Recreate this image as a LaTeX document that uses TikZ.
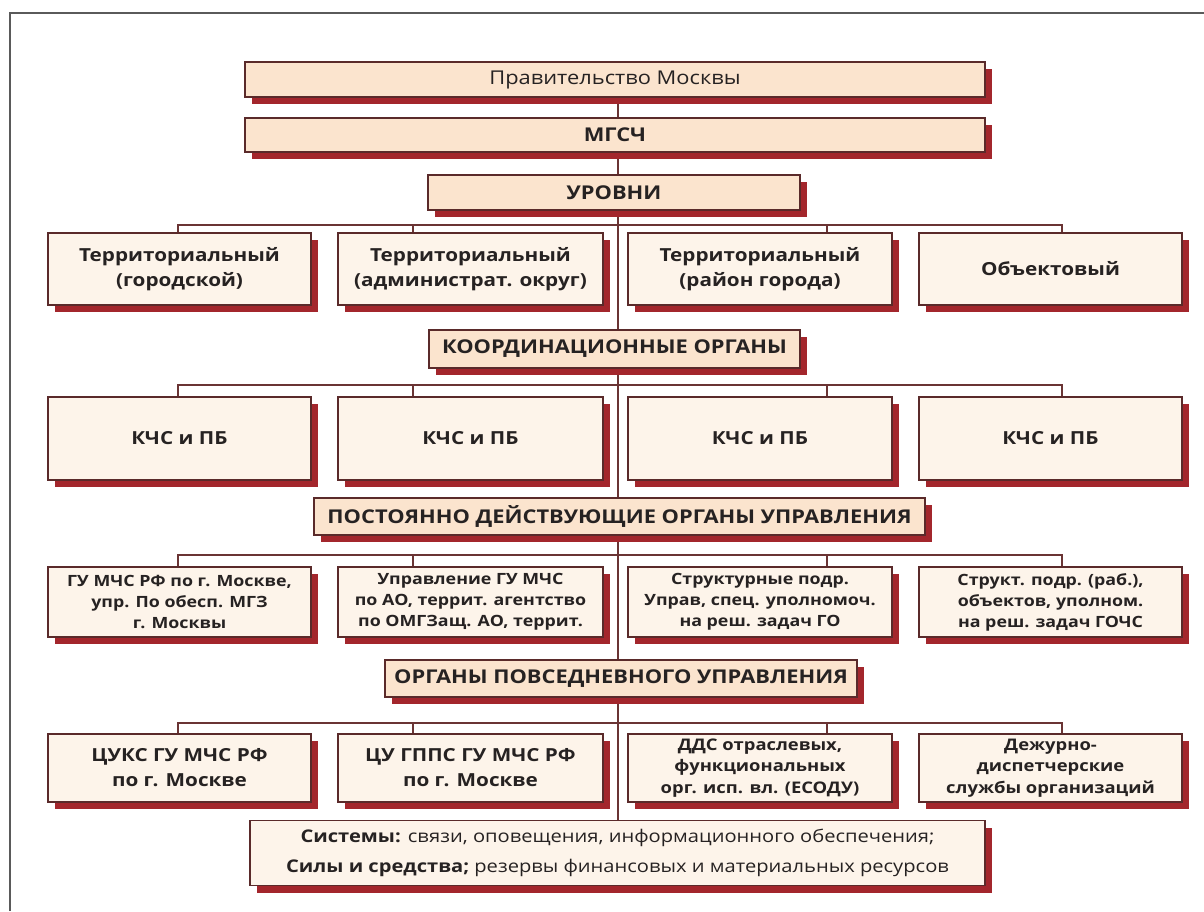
\documentclass[tikz,border=0pt]{standalone}
\usepackage{fontspec}
\setmainfont{Open Sans}[FakeStretch=1.15]
\usetikzlibrary{shadows,backgrounds}
\definecolor{headfill}{HTML}{FBE4CE}
\definecolor{boxfill}{HTML}{FDF4EA}
\definecolor{shadc}{HTML}{A3262C}
\definecolor{bordc}{HTML}{5A2A2A}
\definecolor{linec}{HTML}{6A3434}
\definecolor{txtc}{HTML}{262222}
\definecolor{framec}{HTML}{5A5A5A}
\tikzset{
  base/.style={draw=bordc, line width=1.3pt, rectangle, inner sep=1pt, align=center, text=txtc,
    general shadow={fill=shadc, shadow xshift=7pt, shadow yshift=-7pt}},
  head/.style={base, fill=headfill, font=\bfseries\fontsize{19}{22}\selectfont},
  cell/.style={base, fill=boxfill, font=\bfseries\fontsize{18}{25}\selectfont},
  small/.style={base, fill=boxfill, font=\bfseries\fontsize{15.5}{21}\selectfont},
  conn/.style={draw=linec, line width=1.3pt},
}
\begin{document}
\begin{tikzpicture}[x=1pt,y=-1pt]
\useasboundingbox (0,0) rectangle (1204,911);
\draw[framec, line width=2.5pt] (10,911) -- (10,13) -- (1204,13);

% header boxes
\node[head, font=\fontsize{19}{22}\selectfont, minimum width=740pt, minimum height=35pt] (gov) at (615,79.5) {Правительство Москвы};
\node[head, minimum width=740pt, minimum height=34pt] (mgs) at (615,135) {МГСЧ};
\node[head, minimum width=372pt, minimum height=35pt] (urv) at (614,192.5) {УРОВНИ};

% levels
\node[cell, minimum width=263pt, minimum height=72pt] (l1) at (179.5,269) {Территориальный\\(городской)};
\node[cell, minimum width=265pt, minimum height=72pt] (l2) at (470.5,269) {Территориальный\\(администрат. округ)};
\node[cell, minimum width=264pt, minimum height=72pt] (l3) at (760,269) {Территориальный\\(район города)};
\node[cell, minimum width=263pt, minimum height=72pt] (l4) at (1050.5,269) {Объектовый};

\node[head, minimum width=371pt, minimum height=38pt] (crd) at (614.5,349) {КООРДИНАЦИОННЫЕ ОРГАНЫ};

\node[cell, minimum width=263pt, minimum height=83pt] (k1) at (179.5,438.5) {КЧС и ПБ};
\node[cell, minimum width=265pt, minimum height=83pt] (k2) at (470.5,438.5) {КЧС и ПБ};
\node[cell, minimum width=264pt, minimum height=83pt] (k3) at (760,438.5) {КЧС и ПБ};
\node[cell, minimum width=263pt, minimum height=83pt] (k4) at (1050.5,438.5) {КЧС и ПБ};

\node[head, minimum width=611pt, minimum height=37pt] (pst) at (619.5,516.5) {ПОСТОЯННО ДЕЙСТВУЮЩИЕ ОРГАНЫ УПРАВЛЕНИЯ};

\node[small, minimum width=263pt, minimum height=70pt] (p1) at (179.5,602) {ГУ МЧС РФ по г. Москве,\\упр. По обесп. МГЗ\\г. Москвы};
\node[small, minimum width=265pt, minimum height=70pt] (p2) at (470.5,602) {Управление ГУ МЧС\\по АО, террит. агентство\\по ОМГЗащ. АО, террит.};
\node[small, minimum width=264pt, minimum height=70pt] (p3) at (760,602) {Структурные подр.\\Управ, спец. уполномоч.\\на реш. задач ГО};
\node[small, minimum width=263pt, minimum height=70pt] (p4) at (1050.5,602) {Структ. подр. (раб.),\\объектов, уполном.\\на реш. задач ГОЧС};

\node[head, minimum width=472pt, minimum height=37pt] (pov) at (621,678.5) {ОРГАНЫ ПОВСЕДНЕВНОГО УПРАВЛЕНИЯ};

\node[cell, minimum width=263pt, minimum height=68pt] (d1) at (179.5,768) {ЦУКС ГУ МЧС РФ\\по г. Москве};
\node[cell, minimum width=265pt, minimum height=68pt] (d2) at (470.5,768) {ЦУ ГППС ГУ МЧС РФ\\по г. Москве};
\node[small, font=\bfseries\fontsize{16}{21.5}\selectfont, minimum width=264pt, minimum height=68pt] (d3) at (760,768) {ДДС отраслевых,\\функциональных\\орг. исп. вл. (ЕСОДУ)};
\node[small, font=\bfseries\fontsize{16}{21.5}\selectfont, minimum width=263pt, minimum height=68pt] (d4) at (1050.5,768) {Дежурно-\\диспетчерские\\службы организаций};

\node[base, fill=boxfill, font=\fontsize{17.5}{30}\selectfont, minimum width=735pt, minimum height=65pt] (sys) at (617.5,853)
  {\textbf{Системы:} связи, оповещения, информационного обеспечения;\\\textbf{Силы и средства;} резервы финансовых и материальных ресурсов};

% connectors
\coordinate (tr) at (618,0);
\coordinate (t1) at (178,0);
\coordinate (t2) at (413,0);
\coordinate (t3) at (827,0);
\coordinate (t4) at (1062,0);
\coordinate (ba) at (0,225);
\coordinate (bb) at (0,385);
\coordinate (bc) at (0,555);
\coordinate (bd) at (0,723);
\begin{pgfonlayer}{background}
\fill[white] (0,0) rectangle (1204,911);
\draw[conn] (gov.south -| tr) -- (sys.north -| tr);
\foreach \br/\r in {ba/l, bb/k, bc/p, bd/d}{
  \draw[conn] (\r1.north -| t1) -- (t1 |- \br) -- (t4 |- \br) -- (\r4.north -| t4);
  \draw[conn] (t2 |- \br) -- (\r2.north -| t2);
  \draw[conn] (t3 |- \br) -- (\r3.north -| t3);
}
\end{pgfonlayer}
\end{tikzpicture}
\end{document}
